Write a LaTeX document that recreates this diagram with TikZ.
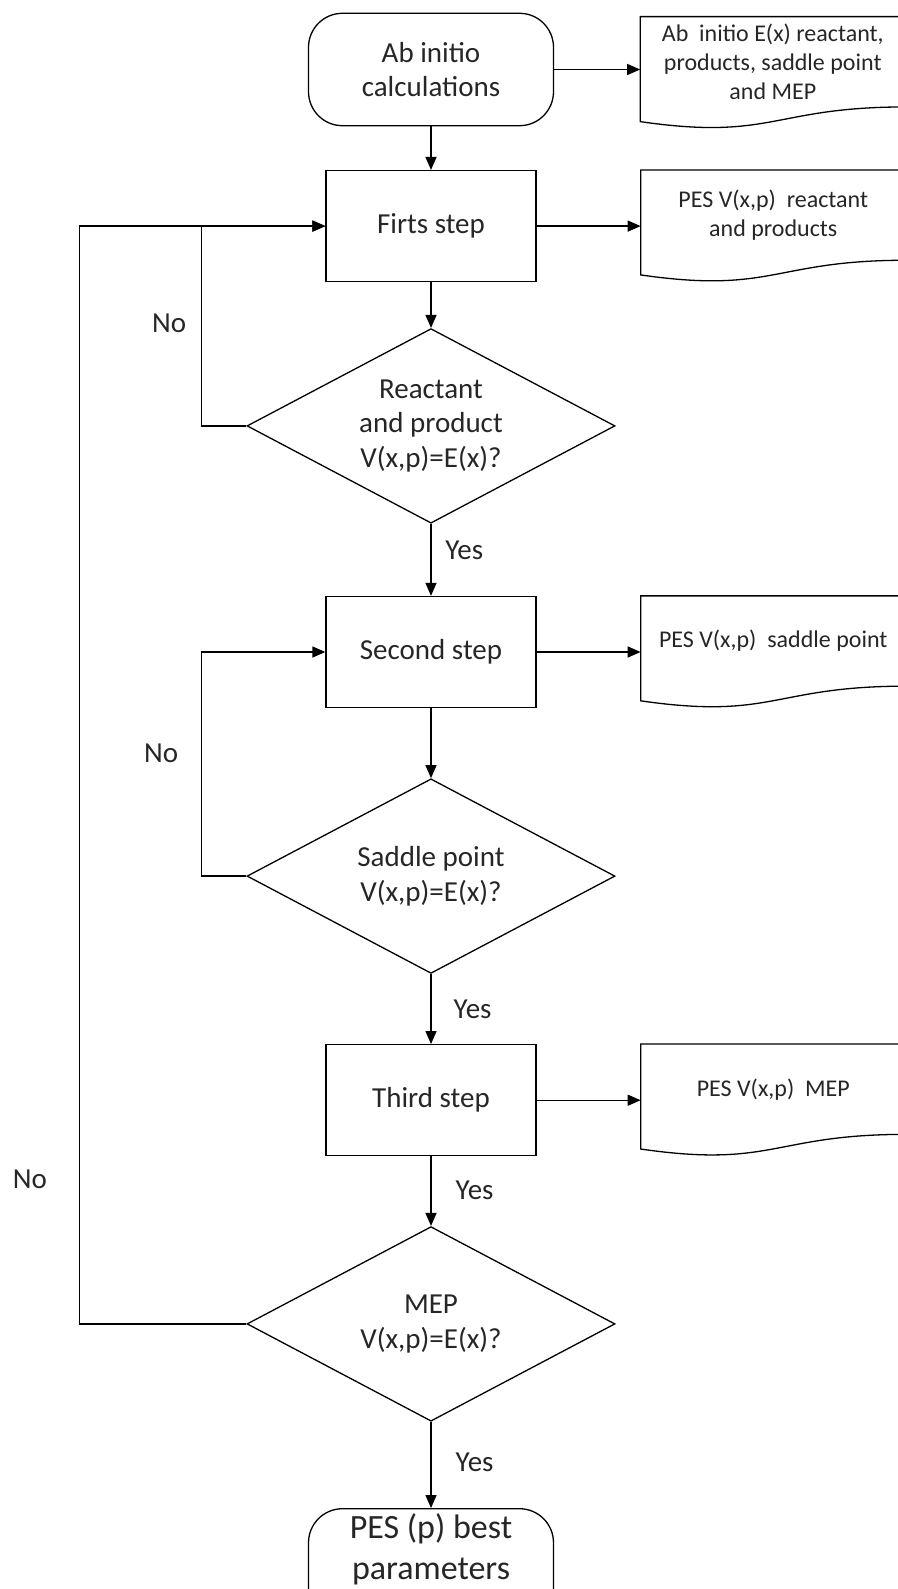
\documentclass[tikz,border=0pt]{standalone}
\usepackage{fontspec}
\setmainfont{Carlito}
\usepackage{xcolor}
\definecolor{InkGray}{HTML}{262626}
\usepackage{tikz}
\usetikzlibrary{arrows.meta,positioning,shapes.geometric}

% outline of a document shape around a text node
\newcommand{\docoutline}[1]{%
  \draw (#1.north west) -- ++(132pt,0) -- (#1.south east)
    .. controls (#1.south) and ([yshift=-16.96pt]#1.south) .. ([yshift=-7.33pt]#1.south west) -- cycle;}

\begin{document}
\begin{tikzpicture}[>={Triangle[length=6.5pt,width=5.5pt]}, line width=0.65pt,
  every node/.style={font=\fontsize{14.5}{17.3}\selectfont,text=InkGray},
  terminal/.style={draw,rounded corners=17pt,minimum width=122.5pt,minimum height=56.2pt,align=center},
  stepbox/.style={draw,minimum width=105pt,minimum height=55.5pt,align=center},
  check/.style={draw,diamond,aspect=1.89,inner sep=0pt,minimum width=184pt,minimum height=97.3pt,align=center},
  doc/.style={minimum width=132pt,minimum height=44.5pt,inner sep=0pt,align=center,font=\fontsize{12}{14.5}\selectfont}]
\useasboundingbox (0,0) rectangle (449pt,-794.5pt);

\node[terminal] (start) at (215.5pt,-34.75pt) {Ab initio\\calculations};
\node[stepbox,below=21.8pt of start] (step1) {Firts step};
\node[check,below=22.85pt of step1] (check1) {Reactant\\and product\\V(x,p)=E(x)?};
\node[stepbox,below=36pt of check1] (step2) {Second step};
\node[check,below=35pt of step2] (check2) {Saddle point\\V(x,p)=E(x)?};
\node[stepbox,below=35pt of check2] (step3) {Third step};
\node[check,below=34.8pt of step3] (check3) {MEP\\V(x,p)=E(x)?};
\node[terminal,below=43.1pt of check3,label={[font=\fontsize{17}{20.5}\selectfont,align=center,yshift=8pt]center:PES (p) best\\parameters}] (best) {};

% outputs
\node[doc,below right=2pt and 43pt of start.north east] (out1) {Ab\ \ initio E(x) reactant,\\products, saddle point\\and MEP};
\node[doc,below right=0pt and 52pt of step1.north east] (out2) {PES V(x,p)\ \ reactant\\and products};
\node[doc,below right=0pt and 52pt of step2.north east] (out3) {PES V(x,p)\ \ saddle point};
\node[doc,below right=0pt and 52pt of step3.north east] (out4) {PES V(x,p)\ \ MEP};
\foreach \d in {out1,out2,out3,out4} {\docoutline{\d}}

\draw[->] (start) -- (step1);
\draw[->] (start.east) -- (start.east -| out1.west);
\draw[->] (step1) -- (check1);
\draw[->] (step1.east) -- (step1.east -| out2.west);
\draw[->] (check1) -- node[right=3.5pt,pos=0.365]{Yes} (step2);
\draw[->] (step2) -- (check2);
\draw[->] (step2.east) -- (step2.east -| out3.west);
\draw[->] (check2) -- node[right=7.7pt,pos=0.507]{Yes} (step3);
\draw[->] (step3.east) -- (step3.east -| out4.west);
\draw[->] (step3) -- node[right=8.7pt,pos=0.49]{Yes} (check3);
\draw[->] (check3) -- node[right=8.7pt,pos=0.47]{Yes} (best);

% loops back
\draw[->] (check1.west) -- ++(-22.5pt,0) |- node[left=4pt,pos=0.256]{No} (step1.west);
\draw[->] (check2.west) -- ++(-22.5pt,0) |- node[left=8pt,pos=0.275]{No} (step2.west);
\draw[->] (check3.west) -- ++(-83.6pt,0) |- node[left=12.5pt,pos=0.066]{No} (step1.west);
\end{tikzpicture}
\end{document}
